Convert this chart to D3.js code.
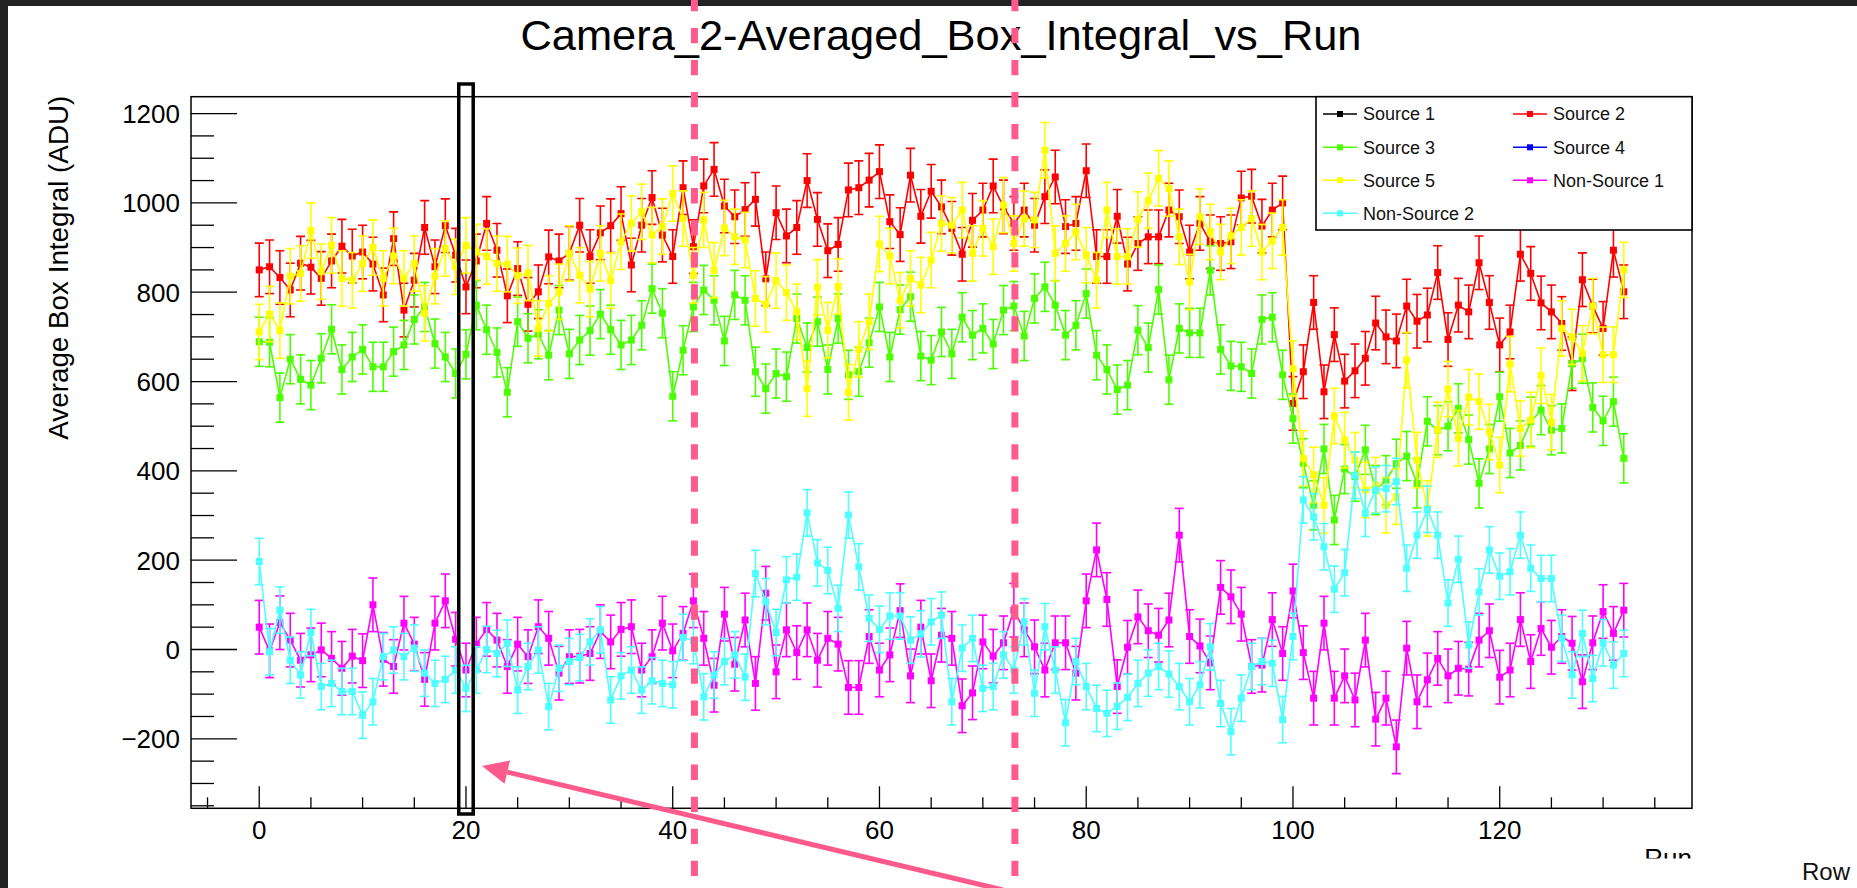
<!DOCTYPE html>
<html>
<head>
<meta charset="utf-8">
<script src="https://cdn.jsdelivr.net/npm/d3@7"></script>
<style>
  html, body { margin: 0; padding: 0; background: #ffffff; overflow: hidden; }
  svg { display: block; }
  text { font-family: "Liberation Sans", Arial, Helvetica, sans-serif; }
</style>
</head>
<body>
<svg id="chart" width="1857" height="888"></svg>
<script>
// Run numbers (x values)
const runs = d3.range(0, 133);

// Average box integral per run (ADU)
const source1 = [];
const source4 = [];
const source2 = [850,857,833,805,865,856,831,870,903,881,890,863,794,920,760,827,945,857,949,883,
  812,870,954,894,792,853,773,801,879,870,887,950,880,933,949,976,861,950,1012,928,
  880,1034,902,1038,1075,993,969,985,1008,830,978,926,945,1050,963,893,907,1029,1034,1051,
  1070,958,929,1062,970,1026,991,943,885,961,984,1038,991,954,984,950,1014,1058,947,954,
  1072,880,880,970,863,909,924,924,984,969,890,954,913,909,913,1011,1015,948,984,1000,
  551,622,777,577,705,601,624,652,731,700,691,769,735,749,844,694,771,756,866,777,
  682,711,885,842,776,756,730,640,828,769,719,894,801];
const source3 = [689,688,564,650,605,592,652,717,627,655,672,633,633,667,682,739,767,685,655,618,
  661,771,716,665,576,734,697,706,659,760,662,693,714,751,716,682,693,726,808,753,
  567,670,767,805,782,691,794,782,622,584,618,611,741,676,734,627,741,615,622,687,
  767,655,761,790,657,648,711,662,744,704,719,684,760,769,702,786,812,771,704,726,
  797,659,627,582,592,715,676,806,604,719,709,709,849,672,635,633,618,739,744,615,
  517,417,323,449,290,404,387,447,357,379,416,433,372,511,491,500,540,470,372,449,
  566,440,457,510,536,491,495,640,651,542,512,555,428];
const source5 = [711,751,714,836,842,938,846,905,831,827,864,900,831,881,831,864,753,836,898,857,
  905,890,880,864,863,837,843,719,775,801,887,838,807,887,826,913,954,980,928,947,
  1021,965,838,962,849,944,924,917,786,773,826,799,756,584,811,715,813,576,672,734,
  908,881,782,831,816,872,954,950,984,887,943,902,995,909,965,962,1118,887,909,935,
  883,827,984,880,880,963,1005,1055,1032,924,823,969,935,890,926,945,965,890,915,945,
  629,428,391,323,523,469,424,357,368,323,342,648,424,316,492,583,473,565,555,487,
  413,639,495,514,613,509,719,700,663,769,660,660,850];
const nonSource1 = [50,-3,60,21,-24,-12,-1,-20,-42,-15,-25,100,-22,-38,59,12,-67,59,109,23,
  -46,12,45,21,-38,12,-16,51,25,-53,-16,-15,-9,40,17,45,51,-46,-16,59,
  -3,36,109,25,-80,79,-33,66,-76,126,-50,44,-7,44,-24,25,12,-85,-85,29,
  -46,-12,87,-59,50,-70,32,25,-126,-97,17,-15,15,88,44,6,-46,15,15,-53,
  109,223,112,-83,5,73,42,32,66,256,29,8,-30,139,118,79,-38,-35,67,-9,
  131,-7,-109,59,-109,-59,-113,21,-156,-109,-218,3,-117,-68,-20,-59,-42,-44,21,42,
  -62,-46,67,-27,47,5,29,14,-72,15,85,36,88];
const nonSource2 = [197,-5,88,-24,-57,38,-83,-76,-94,-94,-147,-117,-16,-1,-16,3,-53,-76,-67,-46,
  -87,-46,0,-9,14,-91,-38,-1,-128,-42,-27,-18,17,44,-113,-59,-46,-91,-70,-76,
  -79,27,20,-106,-57,-27,-12,-62,170,107,38,156,162,306,194,177,92,301,185,70,
  45,75,75,21,35,62,77,-117,3,25,-87,-83,-12,-46,62,-98,51,-46,-164,-27,
  -83,-132,-143,-127,-107,-76,-53,-38,-55,-83,-117,-79,6,-121,-184,-109,-38,-27,-31,-157,
  29,335,297,230,135,172,390,305,357,360,376,182,256,314,256,104,202,10,129,223,
  164,174,256,182,159,159,25,-57,36,-65,15,-35,-9];

// Half-width of the error bar of each series (ADU)
const errSource2 = 60, errSource3 = 55, errSource5 = 62, errNonSource1 = 60, errNonSource2 = 52;

// Legend order (two columns) and colours
const seriesNames = ["Source 1", "Source 2", "Source 3", "Source 4", "Source 5", "Non-Source 1", "Non-Source 2"];
const seriesColors = ["#000000", "#ff0000", "#4cff00", "#0000ff", "#ffff00", "#ff00ff", "#4dffff"];
const seriesValues = [source1, source2, source3, source4, source5, nonSource1, nonSource2];
const seriesErrors = [0, errSource2, errSource3, 0, errSource5, errNonSource1, errNonSource2];

const xMajorTicks = [0, 20, 40, 60, 80, 100, 120];
const yMajorTicks = [-200, 0, 200, 400, 600, 800, 1000, 1200];

// Marked runs: dashed guides and a highlighted run
const guideRuns = [42.1, 73.1];
const highlightRun = 20;

const svg = d3.select("#chart");
const W = 1857, H = 888;
const frame = { left: 191, right: 1692, top: 96.7, bottom: 808.3 };

svg.append("rect").attr("width", W).attr("height", H).attr("fill", "#ffffff");

const x = d3.scaleLinear().domain([-6.6, 138.6]).range([frame.left, frame.right]);
const y = d3.scaleLinear().domain([-355.6, 1237.8]).range([frame.bottom, frame.top]);

// Title
svg.append("text")
  .attr("x", 941).attr("y", 50)
  .attr("text-anchor", "middle")
  .attr("font-size", 42)
  .attr("textLength", 841).attr("lengthAdjust", "spacingAndGlyphs")
  .text("Camera_2-Averaged_Box_Integral_vs_Run");

// Clip for data
svg.append("defs").append("clipPath").attr("id", "frameClip")
  .append("rect")
  .attr("x", frame.left).attr("y", frame.top)
  .attr("width", frame.right - frame.left).attr("height", frame.bottom - frame.top);

const plot = svg.append("g").attr("clip-path", "url(#frameClip)");

const line = d3.line().x((d, i) => x(runs[i])).y(d => y(d));

seriesValues.forEach((vals, s) => {
  if (!vals.length) return;
  const col = seriesColors[s];
  const err = seriesErrors[s];
  const g = plot.append("g");
  // error bars
  const eb = g.append("g").attr("stroke", col).attr("stroke-width", 1.6).attr("fill", "none");
  vals.forEach((v, i) => {
    const cx = x(runs[i]);
    eb.append("line").attr("x1", cx).attr("x2", cx).attr("y1", y(v - err)).attr("y2", y(v + err));
    eb.append("line").attr("x1", cx - 4.5).attr("x2", cx + 4.5).attr("y1", y(v - err)).attr("y2", y(v - err));
    eb.append("line").attr("x1", cx - 4.5).attr("x2", cx + 4.5).attr("y1", y(v + err)).attr("y2", y(v + err));
  });
  // connecting line
  g.append("path").attr("d", line(vals)).attr("fill", "none")
    .attr("stroke", col).attr("stroke-width", 1.6);
  // markers
  g.selectAll("rect.m").data(vals).enter().append("rect")
    .attr("x", (d, i) => x(runs[i]) - 3.5).attr("y", d => y(d) - 3.5)
    .attr("width", 7).attr("height", 7).attr("fill", col);
});

// Frame
svg.append("rect")
  .attr("x", frame.left).attr("y", frame.top)
  .attr("width", frame.right - frame.left).attr("height", frame.bottom - frame.top)
  .attr("fill", "none").attr("stroke", "#000").attr("stroke-width", 1.5);

// Y axis ticks (inside, pointing right)
const yAxisG = svg.append("g").attr("stroke", "#000").attr("stroke-width", 1.3);
d3.range(-350, 1201, 50).forEach(v => {
  const major = v % 200 === 0;
  yAxisG.append("line").attr("x1", frame.left).attr("x2", frame.left + (major ? 46 : 23))
    .attr("y1", y(v)).attr("y2", y(v));
});
svg.append("g").selectAll("text").data(yMajorTicks).enter().append("text")
  .attr("x", 180).attr("y", d => y(d)).attr("dy", "0.36em")
  .attr("text-anchor", "end").attr("font-size", 26)
  .text(d => d < 0 ? "\u2212" + Math.abs(d) : d);

// X axis ticks (inside, pointing up)
const xAxisG = svg.append("g").attr("stroke", "#000").attr("stroke-width", 1.3);
d3.range(-5, 136, 5).forEach(v => {
  const major = v % 20 === 0;
  xAxisG.append("line").attr("x1", x(v)).attr("x2", x(v))
    .attr("y1", frame.bottom).attr("y2", frame.bottom - (major ? 22 : 11));
});
svg.append("g").selectAll("text").data(xMajorTicks).enter().append("text")
  .attr("x", d => x(d)).attr("y", 839)
  .attr("text-anchor", "middle").attr("font-size", 26)
  .text(d => d);

// Axis titles
svg.append("text")
  .attr("transform", `translate(68,${frame.top - 1}) rotate(-90)`)
  .attr("text-anchor", "end").attr("font-size", 27)
  .attr("textLength", 344).attr("lengthAdjust", "spacingAndGlyphs")
  .text("Average Box Integral (ADU)");
svg.append("text")
  .attr("x", frame.right).attr("y", 867)
  .attr("text-anchor", "end").attr("font-size", 26)
  .text("Run");

// Legend
const leg = svg.append("g");
leg.append("rect").attr("x", 1316).attr("y", frame.top).attr("width", frame.right - 1316).attr("height", 230 - frame.top)
  .attr("fill", "#fff").attr("stroke", "#000").attr("stroke-width", 1.6);
const colX = [1323, 1513];
const rowY = [114, 147.3, 180.3, 213.3];
seriesNames.forEach((name, k) => {
  const cx = colX[k % 2], cy = rowY[Math.floor(k / 2)];
  leg.append("line").attr("x1", cx).attr("x2", cx + 34).attr("y1", cy).attr("y2", cy)
    .attr("stroke", seriesColors[k]).attr("stroke-width", 1.6);
  leg.append("rect").attr("x", cx + 17 - 3).attr("y", cy - 3).attr("width", 6).attr("height", 6)
    .attr("fill", seriesColors[k]);
  leg.append("text").attr("x", cx + 40).attr("y", cy).attr("dy", "0.35em")
    .attr("font-size", 18).attr("fill", "#111").text(name);
});

// Lower panel strip
svg.append("rect").attr("x", 0).attr("y", 858.5).attr("width", W).attr("height", H - 858.5).attr("fill", "#ffffff");
svg.append("text").attr("x", 1802).attr("y", 880).attr("font-size", 24).attr("fill", "#111").text("Row");

// Window edges
svg.append("rect").attr("x", 0).attr("y", 0).attr("width", W).attr("height", 6).attr("fill", "#222222");
svg.append("rect").attr("x", 0).attr("y", 0).attr("width", 8).attr("height", H).attr("fill", "#222222");

// Highlighted run box
svg.append("rect")
  .attr("x", x(highlightRun - 0.7)).attr("y", 84)
  .attr("width", x(highlightRun + 0.7) - x(highlightRun - 0.7)).attr("height", 814 - 84)
  .attr("fill", "none").attr("stroke", "#000").attr("stroke-width", 3.5);

// Dashed guides
const pink = "#ff5a8c";
guideRuns.forEach(r => {
  svg.append("line").attr("x1", x(r)).attr("x2", x(r)).attr("y1", -4.1).attr("y2", H)
    .attr("stroke", pink).attr("stroke-width", 7).attr("stroke-dasharray", "15.3 16.73");
});

// Arrow pointing at the highlighted run
const tip = [x(21.55), y(-261)];
const tail = [1003, 890];
const dx = tail[0] - tip[0], dy = tail[1] - tip[1];
const len = Math.hypot(dx, dy);
const ux = dx / len, uy = dy / len;
const base = [tip[0] + 26 * ux, tip[1] + 26 * uy];
svg.append("line").attr("x1", tail[0]).attr("y1", tail[1]).attr("x2", base[0]).attr("y2", base[1])
  .attr("stroke", pink).attr("stroke-width", 5);
svg.append("polygon")
  .attr("points", [tip, [base[0] - 12 * uy, base[1] + 12 * ux], [base[0] + 12 * uy, base[1] - 12 * ux]].map(p => p.join(",")).join(" "))
  .attr("fill", pink);
</script>
</body>
</html>
